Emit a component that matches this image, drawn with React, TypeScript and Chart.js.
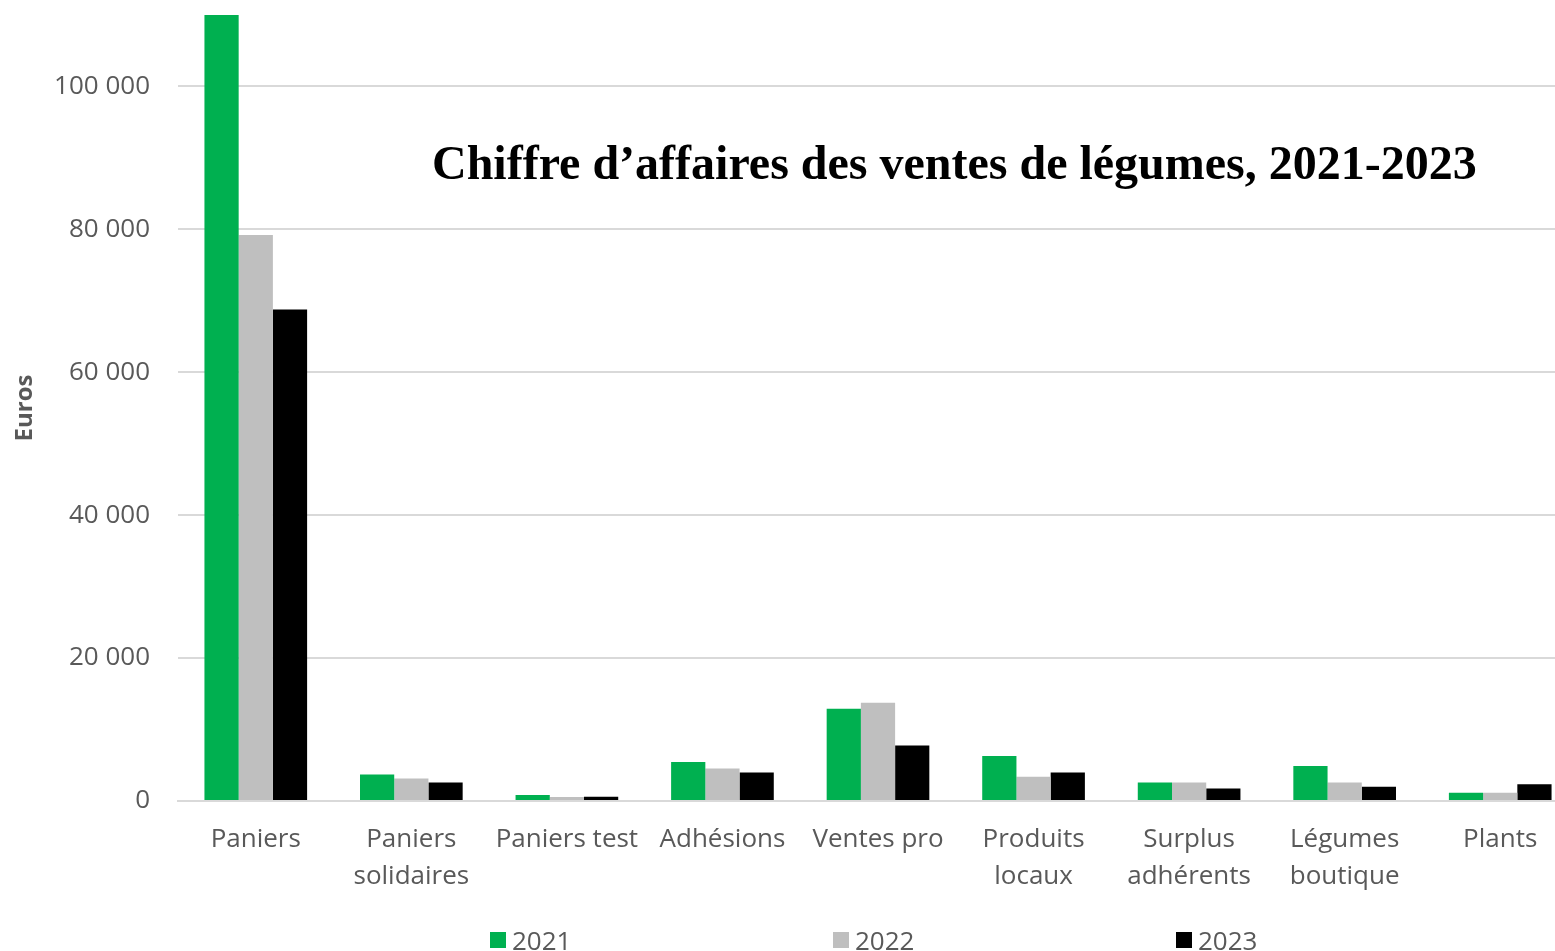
import React, { useEffect, useRef } from 'react';
import { Chart, registerables } from 'chart.js';

Chart.register(...registerables);

const categories: string[][] = [
  ["Paniers"],
  ["Paniers", "solidaires"],
  ["Paniers test"],
  ["Adhésions"],
  ["Ventes pro"],
  ["Produits", "locaux"],
  ["Surplus", "adhérents"],
  ["Légumes", "boutique"],
  ["Plants"],
];
const years = ["2021", "2022", "2023"];
const values2021 = [110000, 3700, 850, 5450, 12900, 6300, 2600, 4900, 1150];
const values2022 = [79200, 3150, 550, 4550, 13750, 3400, 2600, 2600, 1150];
const values2023 = [68800, 2600, 600, 4000, 7750, 4000, 1750, 2000, 2350];
const seriesColors = ["#00B050", "#BFBFBF", "#000000"];
const yTicks = [0, 20000, 40000, 60000, 80000, 100000];
const yMax = 110000;
const titleText = "Chiffre d’affaires des ventes de légumes, 2021-2023";
const yTitle = "Euros";

const fmt = (v: number) => String(v).replace(/\B(?=(\d{3})+(?!\d))/g, " ");

const legendPos = [490, 833, 1176];

export default function App() {
  const ref = useRef<HTMLCanvasElement | null>(null);

  useEffect(() => {
    if (!ref.current) return;
    const series = [values2021, values2022, values2023];
    const chart = new Chart(ref.current, {
      type: 'bar',
      data: {
        labels: categories,
        datasets: years.map((y, i) => ({
          label: y,
          data: series[i],
          backgroundColor: seriesColors[i],
          borderWidth: 0,
          categoryPercentage: 0.66,
          barPercentage: 1.0,
        })),
      },
      options: {
        responsive: false,
        animation: false,
        devicePixelRatio: 1,
        layout: { padding: { top: 15, left: 0, right: 0, bottom: 0 } },
        plugins: {
          legend: { display: false },
          tooltip: { enabled: false },
          title: { display: false },
        },
        scales: {
          x: {
            grid: { display: false },
            border: { color: '#d9d9d9', width: 2 },
            ticks: {
              font: { family: 'Open Sans', size: 26, lineHeight: '37px' },
              color: '#595959',
              padding: 12,
              maxRotation: 0,
              autoSkip: false,
            },
            afterFit: (s: any) => { s.height = 150; },
          },
          y: {
            min: 0,
            max: yMax,
            afterBuildTicks: (s: any) => { s.ticks = yTicks.map((v) => ({ value: v })); },
            grid: { color: '#d9d9d9', lineWidth: 2, drawTicks: false },
            border: { display: false },
            ticks: {
              font: { family: 'Open Sans', size: 26 },
              color: '#595959',
              padding: 28,
              callback: (v: any) => fmt(Number(v)),
            },
            title: {
              display: true,
              text: yTitle,
              font: { family: 'Open Sans', size: 24, weight: 'bold' },
              color: '#595959',
              padding: { top: 11, bottom: 0 },
            },
            afterFit: (s: any) => {
              s.width = 178;
              s.paddingTop = 0;
              s.paddingBottom = 0;
            },
          },
        },
      },
    });
    return () => chart.destroy();
  }, []);

  return (
    <div style={{ position: 'fixed', left: 0, top: 0, width: 1555, height: 951, overflow: 'hidden', background: '#fff' }}>
      <canvas ref={ref} width={1578} height={951} style={{ display: 'block', width: 1578, height: 951 }} />
      <div
        style={{
          position: 'absolute',
          left: 432,
          top: 134,
          fontFamily: '"Liberation Serif", "Times New Roman", serif',
          fontWeight: 'bold',
          fontSize: 48,
          lineHeight: '58px',
          color: '#000',
          whiteSpace: 'nowrap',
        }}
      >
        {titleText}
      </div>
      {years.map((y, i) => (
        <div
          key={y}
          style={{
            position: 'absolute',
            left: legendPos[i],
            top: 922,
            height: 36,
            display: 'flex',
            alignItems: 'center',
            fontFamily: '"Open Sans", sans-serif',
            fontSize: 26,
            color: '#595959',
            whiteSpace: 'nowrap',
          }}
        >
          <span style={{ display: 'inline-block', width: 16, height: 16, background: seriesColors[i], marginRight: 6 }} />
          {y}
        </div>
      ))}
    </div>
  );
}
